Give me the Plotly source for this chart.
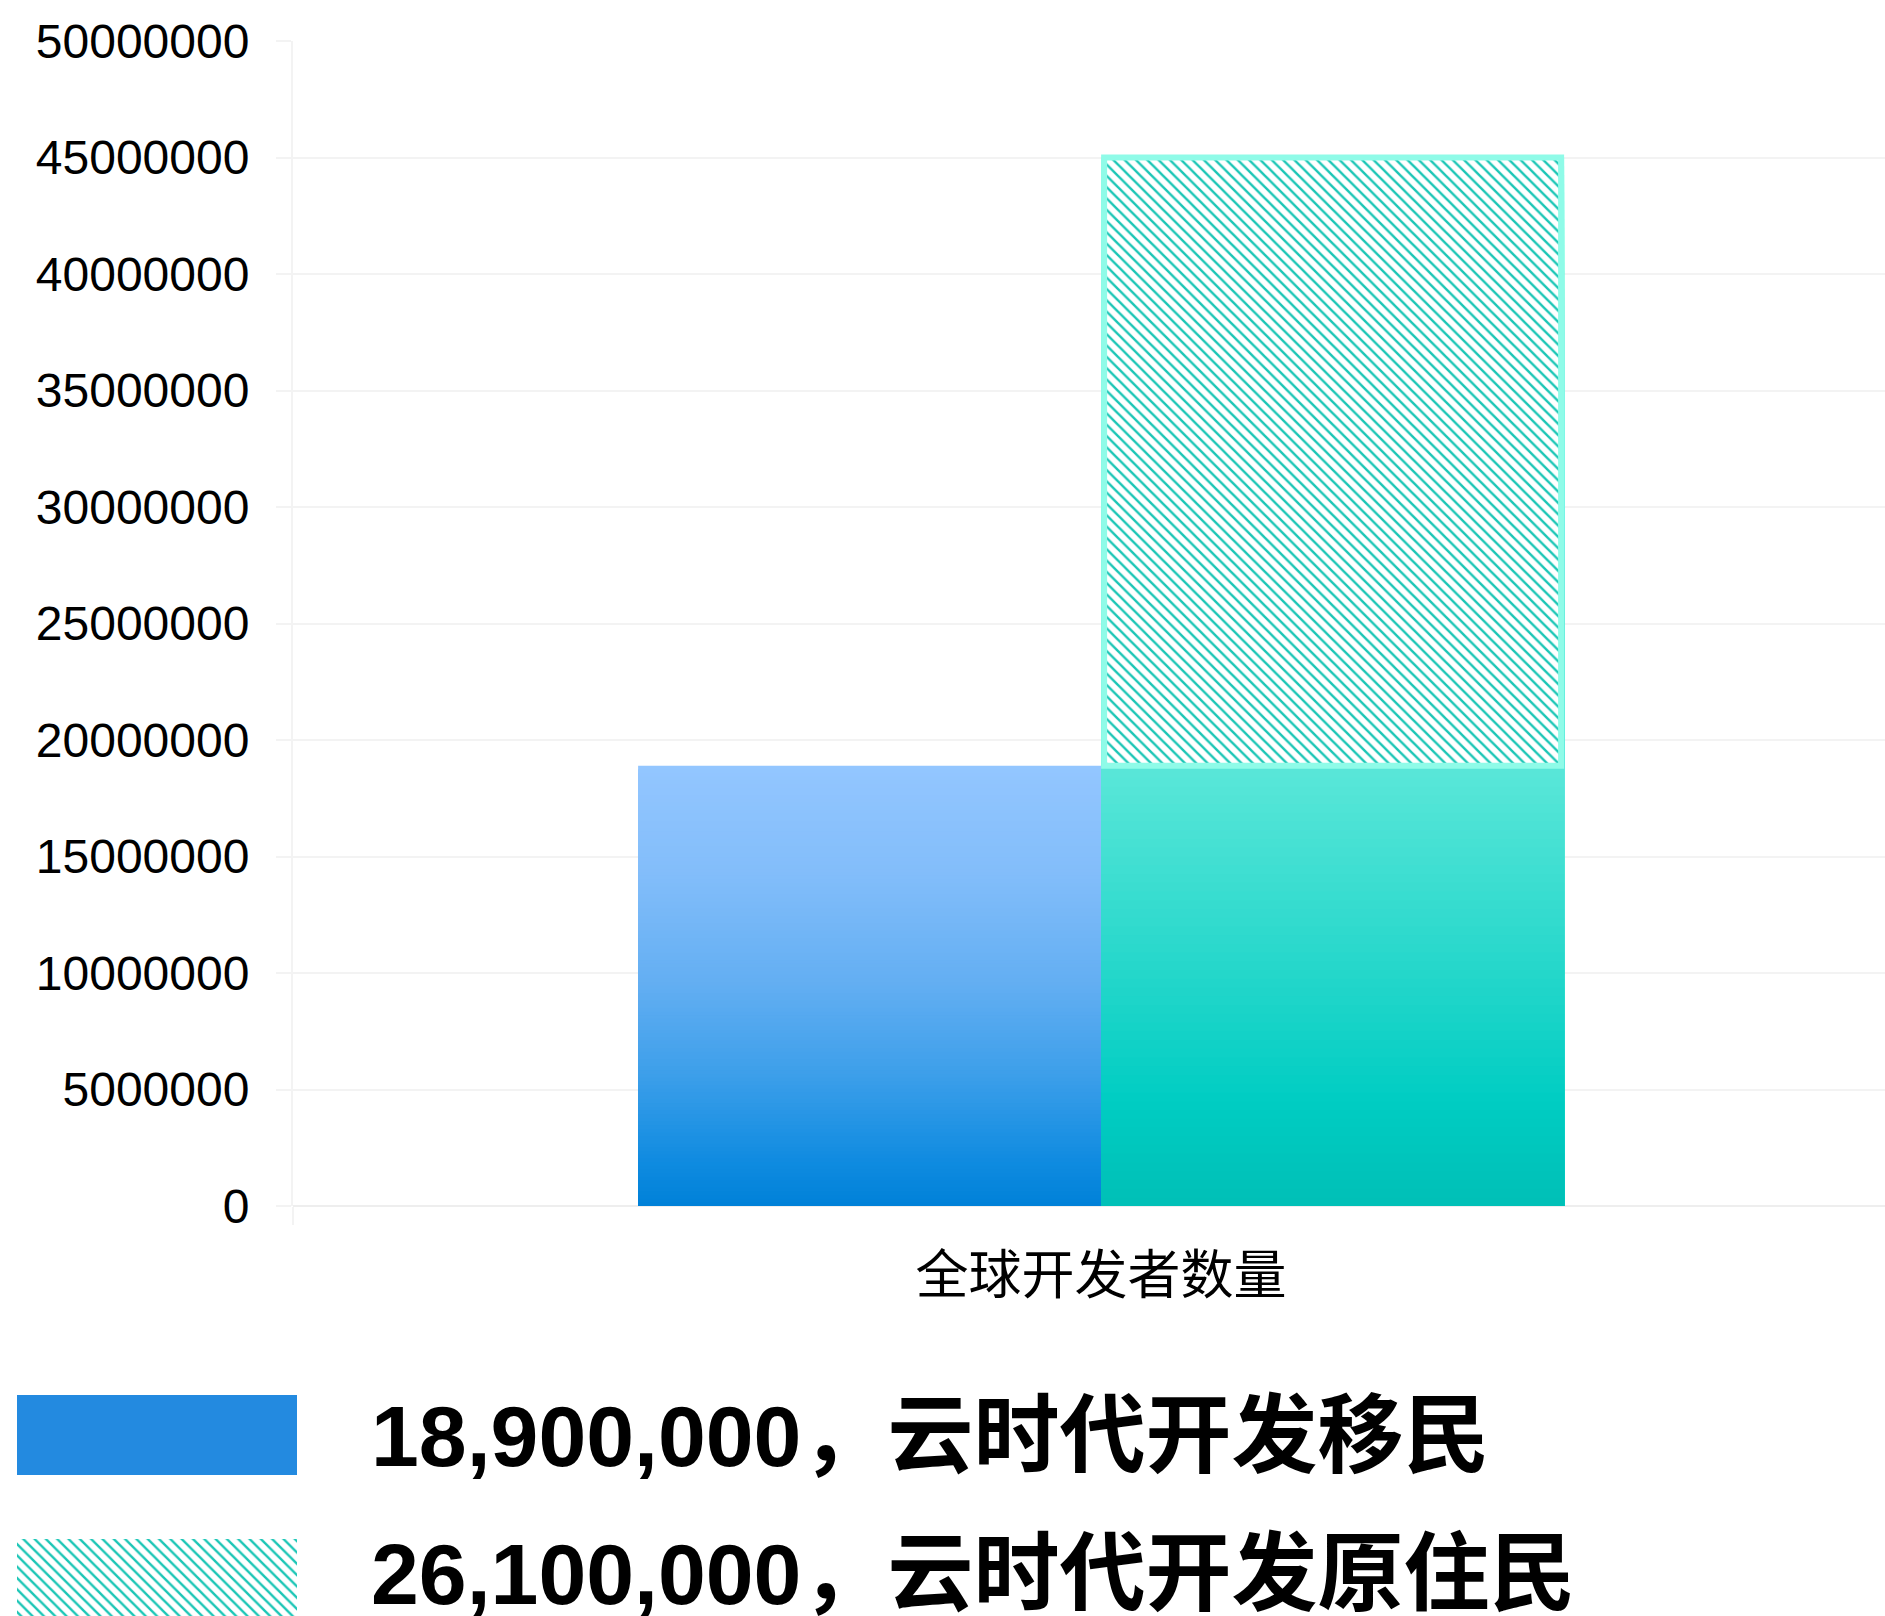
import plotly.graph_objects as go

# ---------------- data ----------------
category = ["全球开发者数量"]
series_names = ["云时代开发移民", "云时代开发原住民"]
series_values = [18900000, 26100000]
y_tick_values = [0, 5000000, 10000000, 15000000, 20000000, 25000000,
                 30000000, 35000000, 40000000, 45000000, 50000000]
legend_swatch_length = [1]

# ---------------- styling ----------------
W_PX, H_PX = 1885, 1616
PLOT_L, PLOT_T, PLOT_B = 293, 41, 1206
X_RANGE = [-0.5, 0.485]
PX_PER_UNIT = (W_PX - PLOT_L) / (X_RANGE[1] - X_RANGE[0])
BAR_W = 463 / PX_PER_UNIT
INSET = 3 / PX_PER_UNIT
N_SLICES = 120
LEGEND_TEXT_ROWS_PX = [1436, 1574]

blue_stops = [(0.0, "#0081d8"), (0.1, "#0f8be0"), (0.3, "#3d9fea"),
              (0.5, "#62aef2"), (0.75, "#82bdfa"), (1.0, "#93c6ff")]
teal_stops = [(0.0, "#00bfb6"), (0.1, "#00cdc3"), (0.2, "#1ed5c9"),
              (0.41, "#58e6d8"), (1.0, "#90fbe9")]
hatch_color = "#1bc6b6"
legend_blue = "#238ae0"
grid_color = "#f3f3f3"


def hex2rgb(h):
    h = h.lstrip("#")
    return [int(h[i:i + 2], 16) for i in (0, 2, 4)]


def interp(stops, f):
    for (f0, c0), (f1, c1) in zip(stops, stops[1:]):
        if f0 <= f <= f1:
            t = (f - f0) / (f1 - f0) if f1 > f0 else 0
            c = [round(a + (b - a) * t) for a, b in zip(hex2rgb(c0), hex2rgb(c1))]
            return f"rgb({c[0]},{c[1]},{c[2]})"
    return stops[-1][1]


def gradient_bar(value, stops, offset):
    # one bar drawn as overlapping slices (tallest first) to fake a vertical gradient
    heights = [value * (N_SLICES - i) / N_SLICES for i in range(N_SLICES)]
    colors = [interp(stops, (N_SLICES - i - 0.5) / N_SLICES) for i in range(N_SLICES)]
    return go.Bar(
        x=category * N_SLICES, y=heights, base=[0] * N_SLICES,
        offset=offset, width=BAR_W,
        marker=dict(color=colors, line=dict(width=0)),
        hoverinfo="skip", showlegend=False,
    )


hatch_pattern = dict(shape="\\", fgcolor=hatch_color, bgcolor="white",
                     size=8, solidity=0.3, fillmode="replace")

fig = go.Figure()

# migrants: blue gradient bar
fig.add_trace(gradient_bar(series_values[0], blue_stops, -BAR_W))
# total column: teal gradient bar
fig.add_trace(gradient_bar(sum(series_values), teal_stops, 0))
# natives: hatched bar stacked on top of migrants value
fig.add_trace(go.Bar(
    x=category, base=[series_values[0]], y=[series_values[1]],
    offset=INSET, width=BAR_W - 2 * INSET,
    marker=dict(color="white", line=dict(width=6, color="#8ffbe8"),
                pattern=hatch_pattern),
    hoverinfo="skip", showlegend=False,
))

# custom large legend swatches
fig.add_trace(go.Bar(
    orientation="h", x=legend_swatch_length, y=[series_names[0]],
    xaxis="x2", yaxis="y2", width=80 / 144,
    marker=dict(color=legend_blue, line=dict(width=0)),
    hoverinfo="skip", showlegend=False,
))
fig.add_trace(go.Bar(
    orientation="h", x=legend_swatch_length, y=[series_names[1]],
    xaxis="x2", yaxis="y2", width=80 / 144,
    marker=dict(color="white", line=dict(width=0), pattern=hatch_pattern),
    hoverinfo="skip", showlegend=False,
))

annotations = []
for name, val, row_px in zip(series_names, series_values, LEGEND_TEXT_ROWS_PX):
    annotations.append(dict(
        text=f"<b>{val:,}，{name}</b>",
        x=369 / W_PX, xref="paper", xanchor="left",
        y=(H_PX - row_px) / H_PX, yref="paper", yanchor="middle",
        showarrow=False,
        font=dict(family="Liberation Sans, Arial, Noto Sans CJK SC", size=86, color="#000"),
    ))

fig.update_layout(
    width=W_PX, height=H_PX,
    margin=dict(l=0, r=0, t=0, b=0, autoexpand=False),
    paper_bgcolor="white", plot_bgcolor="white",
    barmode="overlay", showlegend=False, hovermode=False,
    annotations=annotations,
    xaxis=dict(
        type="category", domain=[PLOT_L / W_PX, 1], range=X_RANGE,
        automargin=False,
        showgrid=False, showline=False, zeroline=False,
        ticks="outside", tickson="boundaries", ticklen=18, tickwidth=2, tickcolor=grid_color,
        tickfont=dict(family="Noto Sans CJK SC", size=53, color="#000"),
        ticklabelstandoff=34, fixedrange=True,
    ),
    yaxis=dict(
        domain=[(H_PX - PLOT_B) / H_PX, (H_PX - PLOT_T) / H_PX],
        range=[0, 50000000], tickvals=y_tick_values, tickformat="d",
        automargin=False,
        showgrid=True, gridcolor=grid_color, gridwidth=2,
        zeroline=True, zerolinecolor="#eeeeee", zerolinewidth=2,
        showline=True, linecolor=grid_color, linewidth=2,
        ticks="outside", ticklen=15, tickwidth=2, tickcolor=grid_color,
        ticklabelstandoff=17,
        tickfont=dict(family="Liberation Sans, Arial", size=48, color="#000"),
        fixedrange=True,
    ),
    xaxis2=dict(domain=[17 / W_PX, 297 / W_PX], range=[0, 1], visible=False,
                anchor="y2", fixedrange=True, automargin=False),
    yaxis2=dict(domain=[0, 253 / H_PX], type="category", categoryarray=series_names,
                categoryorder="array",
                range=[1 + 0.5 - 35 / 144, -0.5], visible=False, anchor="x2",
                fixedrange=True, automargin=False),
)

fig.write_html(
    "out.html",
    config={"displayModeBar": False},
    post_script="document.body.style.margin='0';document.body.style.overflow='hidden';",
)
